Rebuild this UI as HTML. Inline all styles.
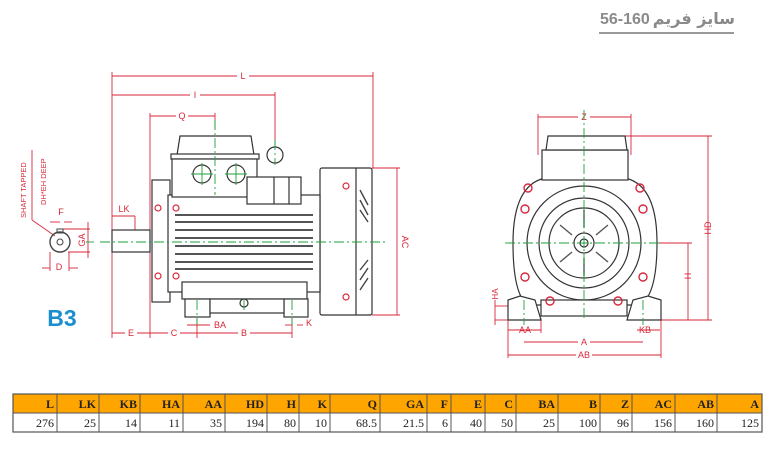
<!DOCTYPE html>
<html><head><meta charset="utf-8"><style>
body{margin:0;background:#fff;width:774px;height:447px;overflow:hidden;font-family:"Liberation Sans",sans-serif}
</style></head><body>
<svg width="774" height="447" viewBox="0 0 774 447" xmlns="http://www.w3.org/2000/svg" font-family="Liberation Sans, DejaVu Sans, sans-serif">
<!-- title -->
<text x="600" y="24" font-size="16" font-weight="bold" fill="#8a8a8a">56-160</text>
<text x="735" y="24" font-size="16" font-weight="bold" fill="#8a8a8a" text-anchor="end" font-family="DejaVu Sans, sans-serif">سایز فریم</text>
<line x1="599" y1="33" x2="734" y2="33" stroke="#999" stroke-width="2"/>

<g stroke="#d9263a" stroke-width="0.9" fill="none">
<line x1="112" y1="76" x2="373" y2="76"/>
<line x1="112" y1="95" x2="275" y2="95"/>
<line x1="150" y1="116" x2="215" y2="116"/>
<line x1="112" y1="72" x2="112" y2="338"/>
<line x1="373" y1="72" x2="373" y2="168"/>
<line x1="275" y1="92" x2="275" y2="150"/>
<line x1="150" y1="113" x2="150" y2="338"/>
<line x1="215" y1="113" x2="215" y2="130"/>
<line x1="112" y1="216" x2="135" y2="216"/><line x1="135" y1="216" x2="135" y2="230"/>
<line x1="112" y1="333" x2="292" y2="333"/>
<line x1="197" y1="318" x2="197" y2="338"/><line x1="292" y1="318" x2="292" y2="338"/>
<line x1="187" y1="325" x2="210" y2="325"/>
<line x1="285" y1="325" x2="292" y2="325"/><line x1="297" y1="325" x2="303" y2="325"/>
<line x1="372" y1="168" x2="400" y2="168"/><line x1="372" y1="315" x2="400" y2="315"/>
<line x1="397" y1="168" x2="397" y2="315"/>
<line x1="538" y1="117" x2="631" y2="117"/>
<line x1="538" y1="114" x2="538" y2="155"/><line x1="631" y1="114" x2="631" y2="155"/>
<line x1="625" y1="136" x2="712" y2="136"/>
<line x1="708" y1="136" x2="708" y2="320"/>
<line x1="640" y1="243" x2="692" y2="243"/>
<line x1="688" y1="243" x2="688" y2="320"/>
<line x1="660" y1="320" x2="712" y2="320"/>
<line x1="508" y1="355" x2="661" y2="355"/>
<line x1="524" y1="342" x2="643" y2="342"/>
<line x1="508" y1="330" x2="541" y2="330"/>
<line x1="637" y1="330" x2="660" y2="330"/>
<line x1="508" y1="315" x2="508" y2="358"/><line x1="661" y1="315" x2="661" y2="358"/>
<line x1="541" y1="318" x2="541" y2="333"/>
<line x1="495" y1="306" x2="508" y2="306"/><line x1="495" y1="320" x2="508" y2="320"/>
<line x1="495" y1="300" x2="495" y2="325"/>
<line x1="32" y1="150" x2="32" y2="220"/><line x1="32" y1="220" x2="55" y2="236"/>
<line x1="50" y1="222" x2="60" y2="222"/><line x1="64" y1="222" x2="72" y2="222"/>
<line x1="63" y1="229" x2="90" y2="229"/><line x1="68" y1="252" x2="90" y2="252"/>
<line x1="88" y1="222" x2="88" y2="258"/>
<line x1="50" y1="252" x2="50" y2="271"/><line x1="69" y1="252" x2="69" y2="271"/>
<line x1="42" y1="268" x2="50" y2="268"/><line x1="69" y1="268" x2="78" y2="268"/>
</g>
<g fill="#d9263a" font-size="9">
<rect x="237" y="71" width="12" height="10" fill="#fff"/><text x="243" y="79" text-anchor="middle">L</text>
<rect x="190" y="90" width="10" height="10" fill="#fff"/><text x="195" y="98" text-anchor="middle">I</text>
<rect x="176" y="111" width="12" height="10" fill="#fff"/><text x="182" y="119" text-anchor="middle">Q</text>
<text x="124" y="212" text-anchor="middle">LK</text>
<rect x="125" y="328" width="12" height="10" fill="#fff"/><text x="131" y="336" text-anchor="middle">E</text>
<rect x="168" y="328" width="12" height="10" fill="#fff"/><text x="174" y="336" text-anchor="middle">C</text>
<rect x="238" y="328" width="12" height="10" fill="#fff"/><text x="244" y="336" text-anchor="middle">B</text>
<text x="220" y="328" text-anchor="middle">BA</text>
<text x="309" y="326" text-anchor="middle">K</text>
<text transform="translate(402,242) rotate(90)" text-anchor="middle">AC</text>
<rect x="578" y="112" width="12" height="10" fill="#fff"/><text x="584" y="120" text-anchor="middle">Z</text>
<text transform="translate(711,228) rotate(-90)" text-anchor="middle">HD</text>
<text transform="translate(691,276) rotate(-90)" text-anchor="middle">H</text>
<text x="525" y="333" text-anchor="middle">AA</text>
<text x="645" y="333" text-anchor="middle">KB</text>
<rect x="578" y="337" width="12" height="10" fill="#fff"/><text x="584" y="345" text-anchor="middle">A</text>
<rect x="576" y="350" width="16" height="10" fill="#fff"/><text x="584" y="358" text-anchor="middle">AB</text>
<text transform="translate(498,294) rotate(-90)" text-anchor="middle" font-size="8">HA</text>
<text transform="translate(26,218) rotate(-90)" font-size="7.5">SHAFT TAPPED</text>
<text transform="translate(46,205) rotate(-90)" font-size="7.5">DH*EH DEEP</text>
<text x="61" y="215" text-anchor="middle">F</text>
<text transform="translate(85,240) rotate(-90)" text-anchor="middle">GA</text>
<text x="59" y="270" text-anchor="middle">D</text>
</g>
<text x="62" y="326" font-size="23" font-weight="bold" fill="#1a8fd0" text-anchor="middle">B3</text>
<circle cx="60" cy="242" r="10" fill="none" stroke="#444" stroke-width="1.4"/>
<circle cx="60" cy="242" r="3" fill="none" stroke="#444"/>
<rect x="57" y="229" width="6" height="4" fill="none" stroke="#444"/>

<!-- left motor -->
<g stroke="#333" stroke-width="1.2" fill="#fff">
<rect x="320" y="168" width="52" height="147" rx="2"/>
<line x1="356" y1="168" x2="356" y2="315"/>
<rect x="152" y="180" width="18" height="122"/>
<rect x="168" y="195" width="152" height="97"/>
<path d="M177 155 L180 136 L251 136 L254 155 Z"/>
<rect x="171" y="154" width="88" height="5"/>
<rect x="172" y="159" width="85" height="38"/>
<rect x="247" y="177" width="54" height="27"/>
<line x1="274" y1="177" x2="274" y2="204"/><line x1="289" y1="177" x2="289" y2="204"/>
<circle cx="275" cy="155" r="8"/>
<circle cx="202" cy="174" r="9"/><circle cx="236" cy="174" r="9"/>
<rect x="112" y="230" width="38" height="22"/>
<rect x="182" y="282" width="125" height="17"/>
<rect x="185" y="299" width="25" height="18"/><rect x="284" y="299" width="24" height="18"/>
<rect x="210" y="299" width="74" height="14"/>
<circle cx="244" cy="303" r="4"/>
</g>
<g stroke="#555" stroke-width="2">
<line x1="175" y1="215" x2="313" y2="215"/><line x1="175" y1="222" x2="313" y2="222"/>
<line x1="175" y1="230" x2="313" y2="230"/><line x1="175" y1="238" x2="313" y2="238"/>
<line x1="175" y1="246" x2="313" y2="246"/><line x1="175" y1="254" x2="313" y2="254"/>
<line x1="175" y1="262" x2="313" y2="262"/><line x1="175" y1="269" x2="313" y2="269"/>
</g>
<g stroke="#444" stroke-width="1.4">
<line x1="360" y1="190" x2="368" y2="205"/><line x1="360" y1="200" x2="368" y2="215"/><line x1="360" y1="210" x2="368" y2="222"/>
<line x1="360" y1="270" x2="368" y2="260"/><line x1="360" y1="280" x2="368" y2="268"/><line x1="360" y1="290" x2="368" y2="278"/>
</g>
<g fill="none" stroke="#d9263a" stroke-width="1.2">
<circle cx="176" cy="208" r="3"/><circle cx="176" cy="276" r="3"/><circle cx="346" cy="186" r="3"/><circle cx="346" cy="297" r="3"/>
<circle cx="158" cy="208" r="3"/><circle cx="158" cy="276" r="3"/>
</g>
<!-- right motor -->
<g stroke="#333" stroke-width="1.2" fill="#fff">
<path d="M513 243 Q513 185 545 178 L625 178 Q657 185 657 243 Q657 295 640 305 L528 305 Q513 295 513 243 Z"/>
<rect x="542" y="150" width="86" height="30"/>
<path d="M546 150 L548 136 L625 136 L627 150 Z"/>
<circle cx="584" cy="243" r="57"/>
<circle cx="584" cy="243" r="45"/>
<circle cx="584" cy="243" r="35"/>
<circle cx="584" cy="243" r="10"/>
<circle cx="584" cy="243" r="4"/>
<path d="M508 320 L508 300 L520 296 L535 300 L541 320 Z"/>
<path d="M627 320 L633 300 L648 296 L661 300 L661 320 Z"/>
<rect x="541" y="300" width="86" height="16"/>
</g>
<g stroke="#555" stroke-width="1.4">
<line x1="584" y1="210" x2="584" y2="228"/><line x1="584" y1="258" x2="584" y2="276"/>
<line x1="560" y1="225" x2="572" y2="235"/><line x1="608" y1="225" x2="596" y2="235"/>
<line x1="560" y1="262" x2="572" y2="252"/><line x1="608" y1="262" x2="596" y2="252"/>
</g>
<g fill="none" stroke="#d9263a" stroke-width="1.4">
<circle cx="528" cy="188" r="4"/><circle cx="640" cy="188" r="4"/>
<circle cx="525" cy="209" r="4"/><circle cx="643" cy="209" r="4"/>
<circle cx="525" cy="277" r="4"/><circle cx="643" cy="277" r="4"/>
<circle cx="550" cy="301" r="4"/><circle cx="618" cy="301" r="4"/>
</g>
<g stroke="#1aa13a" stroke-width="0.9" stroke-dasharray="10,3,2,3" fill="none">
<line x1="100" y1="242" x2="386" y2="242"/>
<line x1="215" y1="120" x2="215" y2="195"/>
<line x1="275" y1="140" x2="275" y2="165"/>
<line x1="505" y1="243" x2="660" y2="243"/>
<line x1="584" y1="110" x2="584" y2="320"/>
<line x1="524" y1="300" x2="524" y2="325"/><line x1="643" y1="300" x2="643" y2="325"/>
<line x1="197" y1="300" x2="197" y2="325"/><line x1="292" y1="300" x2="292" y2="325"/>
<line x1="244" y1="300" x2="244" y2="312"/>
<line x1="86" y1="242" x2="94" y2="242"/>
</g>
<g stroke="#1aa13a" stroke-width="0.9">
<line x1="191" y1="174" x2="213" y2="174"/><line x1="202" y1="163" x2="202" y2="185"/>
<line x1="225" y1="174" x2="247" y2="174"/><line x1="236" y1="163" x2="236" y2="185"/>
</g>

<!-- table -->
<g font-family="Liberation Serif, serif" font-size="12">
<rect x="13" y="394" width="749" height="19" fill="#ffa500"/>
<rect x="13" y="394" width="749" height="38" fill="none" stroke="#555" stroke-width="1.2"/>
<line x1="13" y1="413" x2="762" y2="413" stroke="#555"/>
<g stroke="#555">
<line x1="57" y1="394" x2="57" y2="432"/><line x1="99" y1="394" x2="99" y2="432"/><line x1="140" y1="394" x2="140" y2="432"/>
<line x1="183" y1="394" x2="183" y2="432"/><line x1="225" y1="394" x2="225" y2="432"/><line x1="267" y1="394" x2="267" y2="432"/>
<line x1="299" y1="394" x2="299" y2="432"/><line x1="330" y1="394" x2="330" y2="432"/><line x1="380" y1="394" x2="380" y2="432"/>
<line x1="427" y1="394" x2="427" y2="432"/><line x1="451" y1="394" x2="451" y2="432"/><line x1="485" y1="394" x2="485" y2="432"/>
<line x1="516" y1="394" x2="516" y2="432"/><line x1="558" y1="394" x2="558" y2="432"/><line x1="600" y1="394" x2="600" y2="432"/>
<line x1="632" y1="394" x2="632" y2="432"/><line x1="675" y1="394" x2="675" y2="432"/><line x1="717" y1="394" x2="717" y2="432"/>
</g>
<g font-weight="bold" text-anchor="end" fill="#222">
<text x="54" y="408">L</text><text x="96" y="408">LK</text><text x="137" y="408">KB</text><text x="180" y="408">HA</text>
<text x="222" y="408">AA</text><text x="264" y="408">HD</text><text x="296" y="408">H</text><text x="327" y="408">K</text>
<text x="377" y="408">Q</text><text x="424" y="408">GA</text><text x="448" y="408">F</text><text x="482" y="408">E</text>
<text x="513" y="408">C</text><text x="555" y="408">BA</text><text x="597" y="408">B</text><text x="629" y="408">Z</text>
<text x="672" y="408">AC</text><text x="714" y="408">AB</text><text x="759" y="408">A</text>
</g>
<g text-anchor="end" fill="#222">
<text x="54" y="427">276</text><text x="96" y="427">25</text><text x="137" y="427">14</text><text x="180" y="427">11</text>
<text x="222" y="427">35</text><text x="264" y="427">194</text><text x="296" y="427">80</text><text x="327" y="427">10</text>
<text x="377" y="427">68.5</text><text x="424" y="427">21.5</text><text x="448" y="427">6</text><text x="482" y="427">40</text>
<text x="513" y="427">50</text><text x="555" y="427">25</text><text x="597" y="427">100</text><text x="629" y="427">96</text>
<text x="672" y="427">156</text><text x="714" y="427">160</text><text x="759" y="427">125</text>
</g>
</g>
</svg>
</body></html>
